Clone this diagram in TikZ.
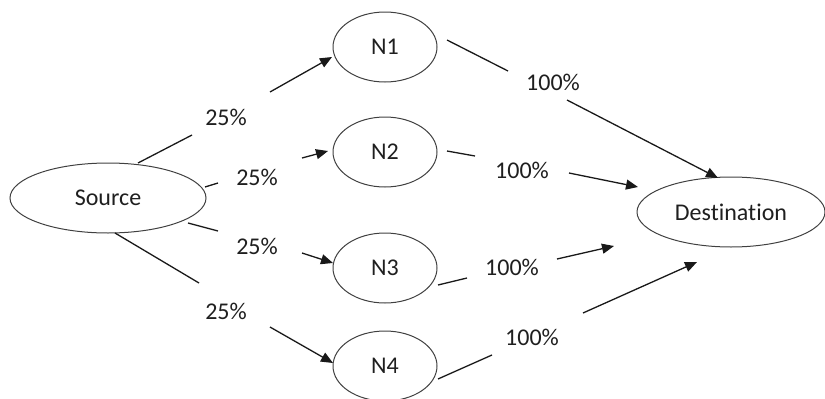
\documentclass[tikz,border=0pt]{standalone}
\usepackage{fontspec}
\setmainfont{Carlito}[Ligatures=NoCommon]
\usetikzlibrary{arrows.meta,shapes.geometric}
\begin{document}
\begin{tikzpicture}[x=1pt,y=-1pt,
  every node/.style={font=\fontsize{24}{28}\selectfont, text=black!88},
  elnode/.style={draw=black!75, line width=1pt, ellipse, inner sep=0pt},
  pct/.style={inner sep=1pt},
  seg/.style={draw=black!90, line width=1.3pt},
  arr/.style={seg, -{Triangle[length=12pt,width=10pt]}}]
\useasboundingbox (0,0) rectangle (825,399);
% nodes
\node[elnode, minimum width=196pt, minimum height=70pt] (src) at (108,198) {Source};
\node[elnode, minimum width=104pt, minimum height=70pt] (n1) at (385,47) {N1};
\node[elnode, minimum width=104pt, minimum height=70pt] (n2) at (385,152) {N2};
\node[elnode, minimum width=104pt, minimum height=70pt] (n3) at (385,268) {N3};
\node[elnode, minimum width=104pt, minimum height=70pt] (n4) at (385,366) {N4};
\node[elnode, minimum width=188pt, minimum height=70pt] (dst) at (731,212) {Destination};
% labels
\node[pct] (l1) at (226,117) {25\%};
\node[pct] (l2) at (257,177) {25\%};
\node[pct] (l3) at (257,246) {25\%};
\node[pct] (l4) at (226,311) {25\%};
\node[pct] (m1) at (553,82) {100\%};
\node[pct] (m2) at (522,170) {100\%};
\node[pct] (m3) at (512,267) {100\%};
\node[pct] (m4) at (532,337) {100\%};
% segment end points
\coordinate (a1s) at (138,163); \coordinate (a1e) at (192,135);
\coordinate (b1s) at (270,92);  \coordinate (b1e) at (332,57);
\coordinate (a2s) at (205,187); \coordinate (a2e) at (218,183);
\coordinate (b2s) at (302,158); \coordinate (b2e) at (328,151);
\coordinate (a3s) at (188,223); \coordinate (a3e) at (218,231);
\coordinate (b3s) at (302,253); \coordinate (b3e) at (333,263);
\coordinate (a4s) at (115,233); \coordinate (a4e) at (199,283);
\coordinate (b4s) at (270,327); \coordinate (b4e) at (333,363);
\coordinate (c1s) at (447,40);  \coordinate (c1e) at (508,71);
\coordinate (d1s) at (567,100); \coordinate (d1e) at (718,178);
\coordinate (c2s) at (447,151); \coordinate (c2e) at (475,156);
\coordinate (d2s) at (569,173); \coordinate (d2e) at (638,187);
\coordinate (c3s) at (438,285); \coordinate (c3e) at (467,278);
\coordinate (d3s) at (557,259); \coordinate (d3e) at (614,246);
\coordinate (c4s) at (438,379); \coordinate (c4e) at (492,355);
\coordinate (d4s) at (583,313); \coordinate (d4e) at (697,262);
% connectors
\draw[seg] (a1s) -- (a1e); \draw[arr] (b1s) -- (b1e);
\draw[seg] (a2s) -- (a2e); \draw[arr] (b2s) -- (b2e);
\draw[seg] (a3s) -- (a3e); \draw[arr] (b3s) -- (b3e);
\draw[seg] (a4s) -- (a4e); \draw[arr] (b4s) -- (b4e);
\draw[seg] (c1s) -- (c1e); \draw[arr] (d1s) -- (d1e);
\draw[seg] (c2s) -- (c2e); \draw[arr] (d2s) -- (d2e);
\draw[seg] (c3s) -- (c3e); \draw[arr] (d3s) -- (d3e);
\draw[seg] (c4s) -- (c4e); \draw[arr] (d4s) -- (d4e);
\end{tikzpicture}
\end{document}
